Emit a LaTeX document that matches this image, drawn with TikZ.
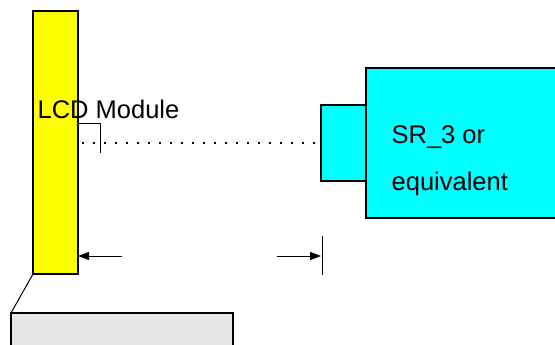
\documentclass[tikz,border=0pt]{standalone}
\usepackage{fontspec}
\setmainfont{Liberation Sans}
\usetikzlibrary{arrows.meta}
\definecolor{cyanfill}{RGB}{0,255,255}
\definecolor{yellowfill}{RGB}{255,255,0}
\definecolor{greyfill}{RGB}{230,230,230}
\begin{document}
\begin{tikzpicture}[x=1pt,y=-1pt,line width=1.3pt,
  box/.style={draw=black,line width=1.3pt},
  lbl/.style={inner sep=0pt,anchor=base west,font=\fontsize{25.5}{30}\selectfont},
  dimarrow/.style={-{Triangle[length=11pt,width=8pt]},line width=1pt}]
\useasboundingbox (0,0) rectangle (555,345);
\fill[white] (0,0) rectangle (555,345);
% grey base
\draw[box,fill=greyfill] (11,313) rectangle (233,360);
% yellow LCD
\draw[box,fill=yellowfill] (33,11) rectangle (78,274);
\coordinate (lcdbl) at (33,274);
\coordinate (basetl) at (11,313);
\draw[line width=1pt] (lcdbl) -- (basetl);
% cyan
\draw[box,fill=cyanfill] (366,68) rectangle (570,218);
\draw[box,fill=cyanfill] (321,105) rectangle (366,181);
\node[lbl] (lcd) at (37,119) {LCD Module};
\node[lbl] (sr1) at (391,143) {SR\_3 or};
\node[lbl] (sr2) at (391,190) {equivalent};
% bracket
\coordinate (b1) at (78,124);
\coordinate (b2) at (100,124);
\coordinate (b3) at (100,153);
\draw[line width=1pt] (b1) -- (b2) -- (b3);
% dotted
\coordinate (d1) at (82,143);
\coordinate (d2) at (321,143);
\draw[line width=1.5pt,dash pattern=on 1.8pt off 9.2pt] (d1) -- (d2);
% dimension arrows
\coordinate (a1) at (122,256);
\coordinate (a2) at (78,256);
\coordinate (a3) at (277,256);
\coordinate (a4) at (321,256);
\draw[dimarrow] (a1) -- (a2);
\draw[dimarrow] (a3) -- (a4);
\coordinate (t1) at (322,236);
\coordinate (t2) at (322,275);
\draw[line width=0.8pt] (t1) -- (t2);
\end{tikzpicture}
\end{document}
